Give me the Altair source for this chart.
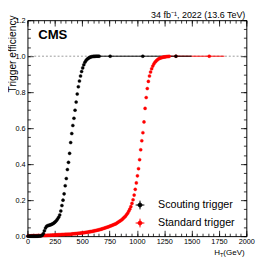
import altair as alt
import pandas as pd

FONT = "Liberation Sans"

# ---------------- data ----------------
triggers = ["Scouting trigger", "Standard trigger"]
colors = ["#000000", "#ff0000"]

# Scouting trigger, 10 GeV bins
scout_ht = [5, 15, 25, 35, 45, 55, 65, 75, 85, 95,
            105, 115, 125, 135, 145, 155, 165, 175, 185, 195,
            205, 215, 225, 235, 245, 255, 265, 275, 285, 295,
            305, 315, 325, 335, 345, 355, 365, 375, 385, 395,
            405, 415, 425, 435, 445, 455, 465, 475, 485, 495,
            505, 515, 525, 535, 545, 555, 565, 575, 585, 595,
            605, 615, 625, 635, 645, 655]
scout_eff = [0.000, 0.000, 0.000, 0.000, 0.000, 0.000, 0.000, 0.000, 0.000, 0.000,
             0.001, 0.001, 0.002, 0.005, 0.015, 0.030, 0.045, 0.055, 0.058, 0.060,
             0.062, 0.064, 0.067, 0.070, 0.075, 0.080, 0.087, 0.095, 0.105, 0.118,
             0.140, 0.170, 0.200, 0.235, 0.280, 0.320, 0.370, 0.410, 0.460, 0.520,
             0.570, 0.615, 0.655, 0.700, 0.745, 0.790, 0.830, 0.862, 0.890, 0.915,
             0.935, 0.952, 0.966, 0.976, 0.983, 0.988, 0.992, 0.995, 0.997, 0.998,
             0.999, 0.999, 1.000, 1.000, 1.000, 1.000]

# Standard trigger, 10 GeV bins
std_ht = [5, 15, 25, 35, 45, 55, 65, 75, 85, 95,
          105, 115, 125, 135, 145, 155, 165, 175, 185, 195,
          205, 215, 225, 235, 245, 255, 265, 275, 285, 295,
          305, 315, 325, 335, 345, 355, 365, 375, 385, 395,
          405, 415, 425, 435, 445, 455, 465, 475, 485, 495,
          505, 515, 525, 535, 545, 555, 565, 575, 585, 595,
          605, 615, 625, 635, 645, 655, 665, 675, 685, 695,
          705, 715, 725, 735, 745, 755, 765, 775, 785, 795,
          805, 815, 825, 835, 845, 855, 865, 875, 885, 895,
          905, 915, 925, 935, 945, 955, 965, 975, 985, 995,
          1005, 1015, 1025, 1035, 1045, 1055, 1065, 1075, 1085, 1095,
          1105, 1115, 1125, 1135, 1145, 1155, 1165, 1175, 1185, 1195,
          1205, 1215, 1225, 1235, 1245, 1255, 1265, 1275, 1285, 1295]
std_eff = [0.001, 0.001, 0.001, 0.002, 0.002, 0.002, 0.002, 0.002, 0.003, 0.003,
           0.003, 0.003, 0.003, 0.004, 0.004, 0.004, 0.004, 0.004, 0.005, 0.005,
           0.005, 0.005, 0.006, 0.006, 0.006, 0.007, 0.007, 0.007, 0.008, 0.008,
           0.008, 0.009, 0.009, 0.009, 0.010, 0.010, 0.010, 0.011, 0.011, 0.011,
           0.012, 0.013, 0.013, 0.014, 0.014, 0.015, 0.016, 0.016, 0.017, 0.018,
           0.019, 0.019, 0.020, 0.021, 0.022, 0.023, 0.024, 0.025, 0.026, 0.027,
           0.029, 0.030, 0.031, 0.033, 0.034, 0.036, 0.037, 0.039, 0.041, 0.043,
           0.045, 0.047, 0.049, 0.051, 0.053, 0.056, 0.058, 0.061, 0.063, 0.066,
           0.068, 0.072, 0.076, 0.080, 0.084, 0.088, 0.093, 0.099, 0.105, 0.111,
           0.119, 0.127, 0.138, 0.150, 0.164, 0.182, 0.202, 0.228, 0.260, 0.296,
           0.335, 0.375, 0.425, 0.480, 0.530, 0.575, 0.635, 0.710, 0.770, 0.820,
           0.860, 0.890, 0.912, 0.930, 0.945, 0.957, 0.966, 0.973, 0.979, 0.984,
           0.987, 0.990, 0.992, 0.994, 0.995, 0.996, 0.997, 0.998, 0.998, 0.999]

# wide bins at high HT (points with horizontal error bars)
scout_wide_ht = [756, 1054, 1357]
scout_wide_lo = [650, 900, 1250]
scout_wide_hi = [900, 1250, 1500]
scout_wide_eff = [1.000, 1.000, 1.000]
std_wide_ht = [1357, 1661]
std_wide_lo = [1300, 1500]
std_wide_hi = [1500, 1800]
std_wide_eff = [1.000, 1.000]

x_major = [0, 250, 500, 750, 1000, 1250, 1500, 1750, 2000]
x_minor = list(range(0, 2001, 50))
y_major = [0.0, 0.2, 0.4, 0.6, 0.8, 1.0, 1.2]
y_minor = [round(0.05 * i, 2) for i in range(25)]
plateau = [1.0]

# ---------------- tables ----------------
pts = pd.DataFrame({
    "ht": std_ht + std_wide_ht + scout_ht + scout_wide_ht,
    "eff": std_eff + std_wide_eff + scout_eff + scout_wide_eff,
    "trigger": [triggers[1]] * (len(std_ht) + len(std_wide_ht))
               + [triggers[0]] * (len(scout_ht) + len(scout_wide_ht)),
})
pts["order"] = (pts["trigger"] == triggers[0]).astype(int)
scout_wide = pd.DataFrame({"lo": scout_wide_lo, "hi": scout_wide_hi, "eff": scout_wide_eff})
std_wide = pd.DataFrame({"lo": std_wide_lo, "hi": std_wide_hi, "eff": std_wide_eff})

W, H = 225, 222
xs = alt.Scale(domain=[0, 2000], nice=False, zero=False)
ys = alt.Scale(domain=[0, 1.2], nice=False, zero=False)
cs = alt.Scale(domain=triggers, range=colors)

SYMBOL = ("M-1,0L1,0M0,-1L0,1"
          "M0.45,0A0.45,0.45,0,1,1,-0.45,0A0.45,0.45,0,1,1,0.45,0Z")
leg = alt.Legend(orient="none", legendX=110.2, legendY=184.5, title=None,
                 symbolType=SYMBOL, symbolSize=81, symbolStrokeWidth=1,
                 labelFont=FONT, labelFontSize=11, labelColor="black",
                 labelOffset=13, rowPadding=5.5, padding=0)

dash = alt.Chart(pd.DataFrame({"y": plateau})).mark_rule(
    strokeDash=[2, 2], color="#808080", strokeWidth=0.8
).encode(y=alt.Y("y:Q", scale=ys, axis=None))


def err_layer(df, color):
    return alt.Chart(df).mark_rule(strokeWidth=1, color=color).encode(
        x=alt.X("lo:Q", scale=xs, axis=None),
        x2="hi:Q",
        y=alt.Y("eff:Q", scale=ys, axis=None),
    )


points = alt.Chart(pts).mark_circle(size=10, opacity=1, strokeWidth=0.4).encode(
    x=alt.X("ht:Q", scale=xs, axis=None),
    y=alt.Y("eff:Q", scale=ys, axis=None),
    fill=alt.Fill("trigger:N", scale=cs, legend=leg),
    stroke=alt.Stroke("trigger:N", scale=cs, legend=leg),
    order=alt.Order("order:Q"),
)


def axis_layer(ch, orient, values, tick=0, labels=False, fmt=None, pad=2):
    kw = dict(orient=orient, values=values, domain=False, grid=False, title=None,
              labels=labels, ticks=tick > 0, tickSize=tick, tickColor="black",
              tickWidth=0.8)
    if tick > 0:
        kw["offset"] = -tick
    if labels:
        kw.update(format=fmt, labelFont=FONT, labelFontSize=7.5, labelColor="black",
                  labelPadding=pad, labelFlush=False, labelOverlap=False, labelBound=False)
    df = pd.DataFrame({"v": values})
    if ch == "x":
        enc = {"x": alt.X("v:Q", scale=xs, axis=alt.Axis(**kw))}
    else:
        enc = {"y": alt.Y("v:Q", scale=ys, axis=alt.Axis(**kw))}
    return alt.Chart(df).mark_point(opacity=0).encode(**enc)


axes = [
    axis_layer("x", "bottom", x_major, labels=True, fmt="d", pad=2),
    axis_layer("y", "left", y_major, labels=True, fmt=".1f", pad=2.5),
    axis_layer("x", "bottom", x_major, tick=6),
    axis_layer("x", "bottom", x_minor, tick=3),
    axis_layer("x", "top", x_major, tick=6),
    axis_layer("x", "top", x_minor, tick=3),
    axis_layer("y", "left", y_major, tick=6),
    axis_layer("y", "left", y_minor, tick=3),
    axis_layer("y", "right", y_major, tick=6),
    axis_layer("y", "right", y_minor, tick=3),
]

one = pd.DataFrame({"a": [0]})


def label(text, x, y, size, **kw):
    return alt.Chart(one).mark_text(text=text, font=FONT, fontSize=size,
                                    color="black", **kw).encode(
        x=alt.value(x), y=alt.value(y))


texts = [
    label("CMS", 11, 19.7, 13.5, fontWeight="bold", align="left", baseline="alphabetic"),
    label("34 fb\u207b\u00b9, 2022 (13.6 TeV)", 224, -2.5, 9.2, align="right", baseline="alphabetic"),
    label("Trigger efficiency", -11.4, -5, 10.5, angle=270, align="right", baseline="alphabetic"),
    label("H", 192, 241.3, 8.2, align="left", baseline="alphabetic"),
    label("T", 197.9, 243, 5.8, align="left", baseline="alphabetic"),
    label(" (GeV)", 201.4, 241.3, 8.2, align="left", baseline="alphabetic"),
]

chart = alt.layer(dash, err_layer(std_wide, colors[1]), err_layer(scout_wide, colors[0]),
                  points, *axes, *texts).resolve_axis(
    x="independent", y="independent"
).properties(
    width=W, height=H,
    autosize=alt.AutoSizeParams(type="none"),
    padding={"left": 20, "top": 9, "right": 12, "bottom": 22},
).configure_view(stroke="black", strokeWidth=1)

chart.save("out.html", embed_options={"renderer": "svg", "actions": False})
